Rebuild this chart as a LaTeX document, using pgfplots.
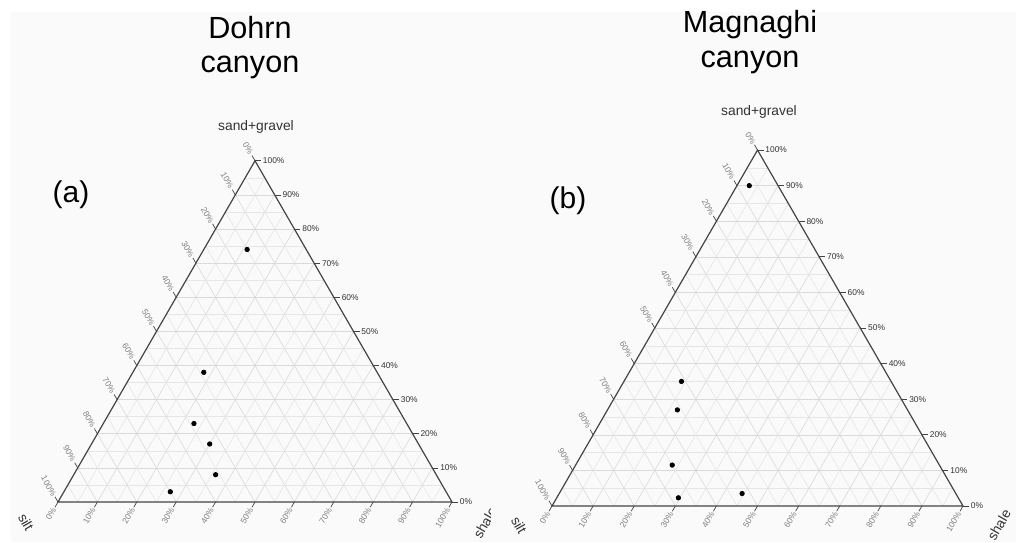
\documentclass[border=0pt]{standalone}
\usepackage{fontspec}
\setmainfont{Liberation Sans}
\usepackage{pgfplots}
\pgfplotsset{compat=1.18}
\usepackage{pgfplotstable}
\usetikzlibrary{calc,backgrounds}

\pgfplotstableread{
sand silt shale
74 15 11
38 44 18
23 54 23
17 53 30
8 56 36
3 70 27
}\dohrn
\pgfplotstableread{
sand silt shale
90 7 3
35 51 14
27 56 17
11.5 65 23.5
2.3 68.1 29.6
3.5 52 44.5
}\magnaghi

\definecolor{edge}{HTML}{444444}
\definecolor{gridmaj}{HTML}{DADADA}
\definecolor{gridmin}{HTML}{E6E6E6}
\definecolor{lblL}{HTML}{808080}
\definecolor{lblR}{HTML}{333333}
\definecolor{bg}{HTML}{FAFAFA}

\pgfplotsset{tern/.style={hide axis, clip=false, xmin=0, xmax=1, ymin=0, ymax=0.8660254, anchor=origin}}

\newcommand\terngrid[1]{%
  \foreach \i in {1,...,19}{%
    \pgfmathsetmacro\t{\i/20}%
    \pgfmathsetmacro\u{1-\i/20}%
    \ifodd\i\relax\def\gc{gridmin}\else\def\gc{gridmaj}\fi
    \draw[\gc, line width=0.3pt] ($(#10)!\t!(#12)$) -- ($(#11)!\t!(#12)$);
    \draw[\gc, line width=0.3pt] ($(#10)!\t!(#11)$) -- ($(#11)!\u!(#12)$);
    \draw[\gc, line width=0.3pt] ($(#12)!\t!(#10)$) -- ($(#10)!\u!(#11)$);
  }%
}
\newcommand\ternframe[1]{%
  \draw[edge, line width=0.6pt, line join=miter] (#10) -- (#11) -- (#12) -- cycle;
  \foreach \j in {0,...,10}{%
    \pgfmathsetmacro\t{\j/10}%
    \pgfmathtruncatemacro\p{\j*10}%
    \draw[edge, line width=0.35pt] ($(#11)!\t!(#12)$) -- ++(3pt,0)
      node[anchor=west, inner sep=0.8pt, text=lblR, font=\fontsize{4.2}{5}\selectfont]{\p\%};
    \draw[edge, line width=0.35pt] ($(#12)!\t!(#10)$) -- ++(120:3pt)
      node[anchor=east, rotate=-60, inner sep=0.8pt, text=lblL, font=\fontsize{4.2}{5}\selectfont]{\p\%};
    \draw[edge, line width=0.35pt] ($(#10)!\t!(#11)$) -- ++(240:3pt)
      node[anchor=east, rotate=60, inner sep=0.8pt, text=lblL, font=\fontsize{4.2}{5}\selectfont]{\p\%};
  }%
}

\begin{document}
\begin{tikzpicture}
\useasboundingbox (0,0) rectangle (508pt,271pt);

% panel (a)
\begin{axis}[tern, at={(29pt,20pt)}, x=197pt, y=197pt]
  \coordinate (a0) at (axis cs:0,0);
  \coordinate (a1) at (axis cs:1,0);
  \coordinate (a2) at (axis cs:0.5,0.8660254);
  \addplot[only marks, mark=*, mark size=1.1pt, black]
    table[x expr={(\thisrow{shale}+0.5*\thisrow{sand})/100}, y expr={0.8660254*\thisrow{sand}/100}]{\dohrn};
\end{axis}

% panel (b)
\begin{axis}[tern, at={(276pt,18pt)}, x=205.5pt, y=205.5pt]
  \coordinate (b0) at (axis cs:0,0);
  \coordinate (b1) at (axis cs:1,0);
  \coordinate (b2) at (axis cs:0.5,0.8660254);
  \addplot[only marks, mark=*, mark size=1.1pt, black]
    table[x expr={(\thisrow{shale}+0.5*\thisrow{sand})/100}, y expr={0.8660254*\thisrow{sand}/100}]{\magnaghi};
\end{axis}

\begin{scope}[on background layer]
  \fill[bg] (5.5pt,0) rectangle (508pt,265pt);
  \terngrid{a}
  \terngrid{b}
\end{scope}

\ternframe{a}
\ternframe{b}

% titles and labels
\node[anchor=base, font=\fontsize{15.3}{17}\selectfont] at (125pt,251.5pt) {Dohrn};
\node[anchor=base, font=\fontsize{15.3}{17}\selectfont] at (125pt,234.5pt) {canyon};
\node[anchor=base, font=\fontsize{15.3}{17}\selectfont] at (375pt,254.5pt) {Magnaghi};
\node[anchor=base, font=\fontsize{15.3}{17}\selectfont] at (375pt,237pt) {canyon};

\node[font=\fontsize{15}{17}\selectfont] at (35.5pt,173.5pt) {(a)};
\node[font=\fontsize{15}{17}\selectfont] at (284pt,170.5pt) {(b)};

\node[anchor=base, font=\fontsize{6.9}{8}\selectfont, text=lblR] at (128pt,206pt) {sand+gravel};
\node[anchor=base, font=\fontsize{6.9}{8}\selectfont, text=lblR] at (379.5pt,213.5pt) {sand+gravel};

\node[rotate=-60, font=\fontsize{6.9}{8}\selectfont, text=lblR] at (13pt,10pt) {silt};
\node[rotate=-60, font=\fontsize{6.9}{8}\selectfont, text=lblR] at (259.5pt,8.5pt) {silt};
\begin{scope}
  \clip (0,0) rectangle (245pt,271pt);
  \node[rotate=60, font=\fontsize{6.9}{8}\selectfont, text=lblR] at (242.5pt,9.5pt) {shale};
\end{scope}
\node[rotate=60, font=\fontsize{6.9}{8}\selectfont, text=lblR] at (499.5pt,8.5pt) {shale};
\end{tikzpicture}
\end{document}
